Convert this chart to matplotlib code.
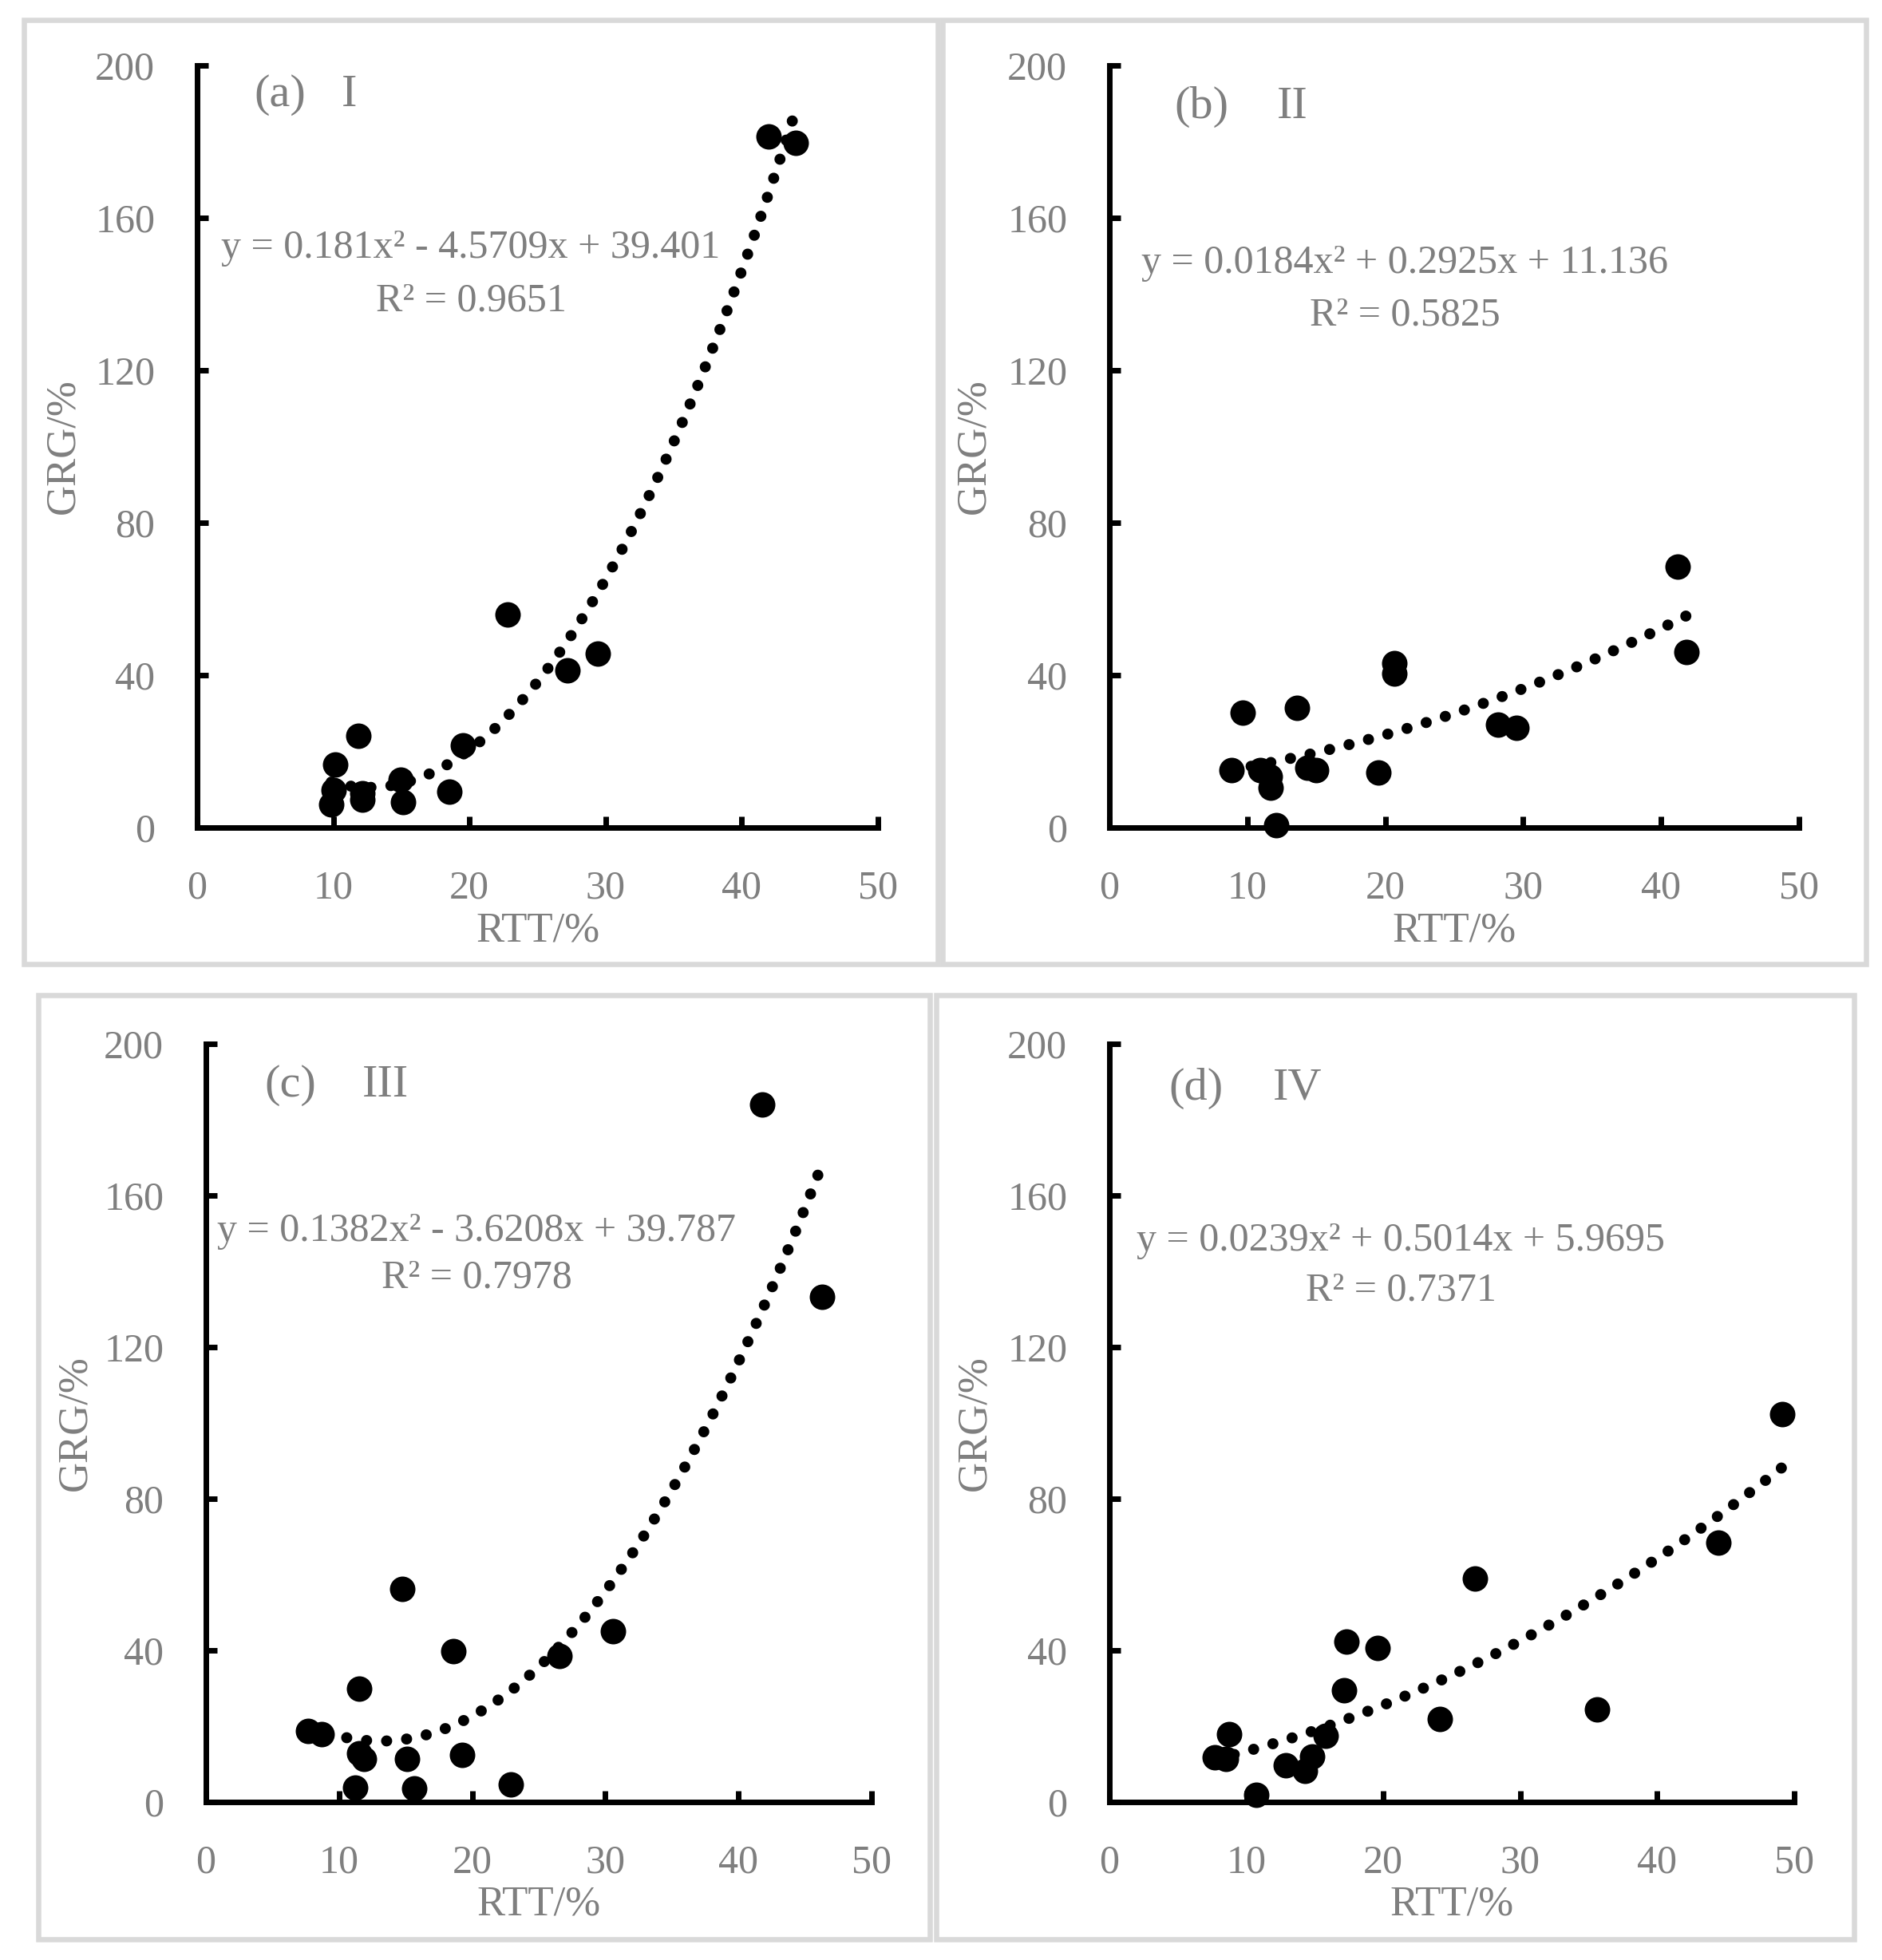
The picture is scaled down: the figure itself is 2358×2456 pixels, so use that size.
import numpy as np
import matplotlib.pyplot as plt
from matplotlib.patches import Rectangle

W, H = 2358, 2456
plt.rcParams['font.family'] = ['Liberation Serif', 'DejaVu Serif']
GREY = '#7f7f7f'

# values (RTT %, GRG %)
rtt_a = [41.96, 43.95, 22.8, 29.45, 27.2, 19.5, 11.85, 10.14, 10.0, 9.85, 12.13, 12.13, 14.95, 15.1, 18.5]
grg_a = [181.4, 179.6, 55.9, 45.6, 41.2, 21.6, 24.0, 16.5, 9.8, 6.0, 9.0, 7.3, 12.6, 6.7, 9.4]

rtt_b = [41.2, 41.86, 20.67, 20.67, 9.68, 13.6, 28.2, 29.5, 8.84, 10.95, 11.65, 11.7, 12.1, 14.36, 15.0, 19.5]
grg_b = [68.5, 46.1, 43.1, 40.4, 30.2, 31.4, 27.0, 26.1, 15.0, 15.0, 13.4, 10.5, 0.7, 15.8, 15.0, 14.5]

rtt_c = [41.76, 46.29, 14.76, 18.57, 26.58, 30.57, 11.5, 7.7, 8.7, 11.5, 11.87, 15.08, 19.25, 11.23, 15.67, 22.92]
grg_c = [183.9, 133.3, 56.3, 39.7, 38.6, 45.0, 29.8, 18.7, 17.9, 12.9, 11.3, 11.3, 12.4, 3.8, 3.5, 4.6]

rtt_d = [49.1, 44.44, 26.67, 17.33, 19.56, 17.11, 24.13, 35.6, 8.76, 7.69, 8.53, 12.89, 14.27, 14.8, 15.78, 10.71]
grg_d = [102.3, 68.4, 58.9, 42.4, 40.7, 29.5, 22.0, 24.5, 17.9, 11.8, 11.3, 9.6, 8.3, 12.1, 17.4, 1.8]

# polynomial trendlines as printed on the chart
coef_a = [0.181, -4.5709, 39.401]
coef_b = [0.0184, 0.2925, 11.136]
coef_c = [0.1382, -3.6208, 39.787]
coef_d = [0.0239, 0.5014, 5.9695]

eq_a = 'y = 0.181x² - 4.5709x + 39.401'
eq_b = 'y = 0.0184x² + 0.2925x + 11.136'
eq_c = 'y = 0.1382x² - 3.6208x + 39.787'
eq_d = 'y = 0.0239x² + 0.5014x + 5.9695'
r2_labels = ['R² = 0.9651', 'R² = 0.5825', 'R² = 0.7978', 'R² = 0.7371']
panel_labels = ['(a)', '(b)', '(c)', '(d)']
roman = ['I', 'II', 'III', 'IV']

xticks = [0, 10, 20, 30, 40, 50]
yticks = [0, 40, 80, 120, 160, 200]


def fx(x):
    return x / W


def fy(y):
    return 1 - y / H


fig = plt.figure(figsize=(W / 100, H / 100), dpi=100)

# axes rectangles in pixels: left, right, top, bottom
axes_px = [(247, 1100, 82, 1037), (1390, 2254, 82, 1037),
           (258, 1092, 1308, 2258), (1390, 2248, 1308, 2258)]
# panel frames in pixels
frames_px = [(30, 1175, 25, 1208), (1181, 2338, 25, 1208),
             (48, 1165, 1247, 2430), (1173, 2323, 1247, 2430)]
# text anchors (pixels): label x, roman x, label baseline, eq centre x, eq baseline 1, eq baseline 2
text_px = [(318, 428, 133, 590, 323, 390), (1471, 1600, 148, 1760, 342, 408),
           (331, 454, 1374, 597, 1555, 1614), (1464, 1595, 1378, 1755, 1567, 1630)]

data = [(rtt_a, grg_a, coef_a, eq_a), (rtt_b, grg_b, coef_b, eq_b),
        (rtt_c, grg_c, coef_c, eq_c), (rtt_d, grg_d, coef_d, eq_d)]

for i, (xv, yv, coef, eq) in enumerate(data):
    l, r, t, b = axes_px[i]
    ax = fig.add_axes([fx(l), fy(b), (r - l) / W, (b - t) / H])
    ax.set_xlim(0, 50)
    ax.set_ylim(0, 200)
    ax.set_xticks(xticks)
    ax.set_yticks(yticks)
    for s in ['top', 'right']:
        ax.spines[s].set_visible(False)
    for s in ['left', 'bottom']:
        ax.spines[s].set_linewidth(5)
        ax.spines[s].set_color('black')
    ax.tick_params(direction='in', length=10, width=5, color='black',
                   labelcolor=GREY, labelsize=36, pad=38)

    xs = np.linspace(min(xv), max(xv), 400)
    ax.plot(xs, np.polyval(coef, xs), color='black', lw=10,
            ls=(0, (0.01, 1.8)), dash_capstyle='round', zorder=2)
    ax.scatter(xv, yv, s=530, c='black', linewidths=0, zorder=3, clip_on=False)

    ax.set_xlabel('RTT/%', fontsize=38, color=GREY)
    ax.set_ylabel('GRG/%', fontsize=38, color=GREY)
    ax.xaxis.set_label_coords(0.5, -0.11)
    ax.yaxis.set_label_coords(-0.168, 0.5)

    lx, rx, lb, ex, e1, e2 = text_px[i]
    fig.text(fx(lx), fy(lb), panel_labels[i], fontsize=42, color=GREY, va='baseline')
    fig.text(fx(rx), fy(lb), roman[i], fontsize=42, color=GREY, va='baseline')
    fig.text(fx(ex), fy(e1), eq, fontsize=36, color=GREY, ha='center', va='baseline')
    fig.text(fx(ex), fy(e2), r2_labels[i], fontsize=36, color=GREY, ha='center', va='baseline')

for (x0, x1, y0, y1) in frames_px:
    fig.add_artist(Rectangle((fx(x0), fy(y1)), (x1 - x0) / W, (y1 - y0) / H,
                             transform=fig.transFigure, fill=False,
                             ec='#d9d9d9', lw=4.7))

fig.savefig('out.png', dpi=100, facecolor='white')
